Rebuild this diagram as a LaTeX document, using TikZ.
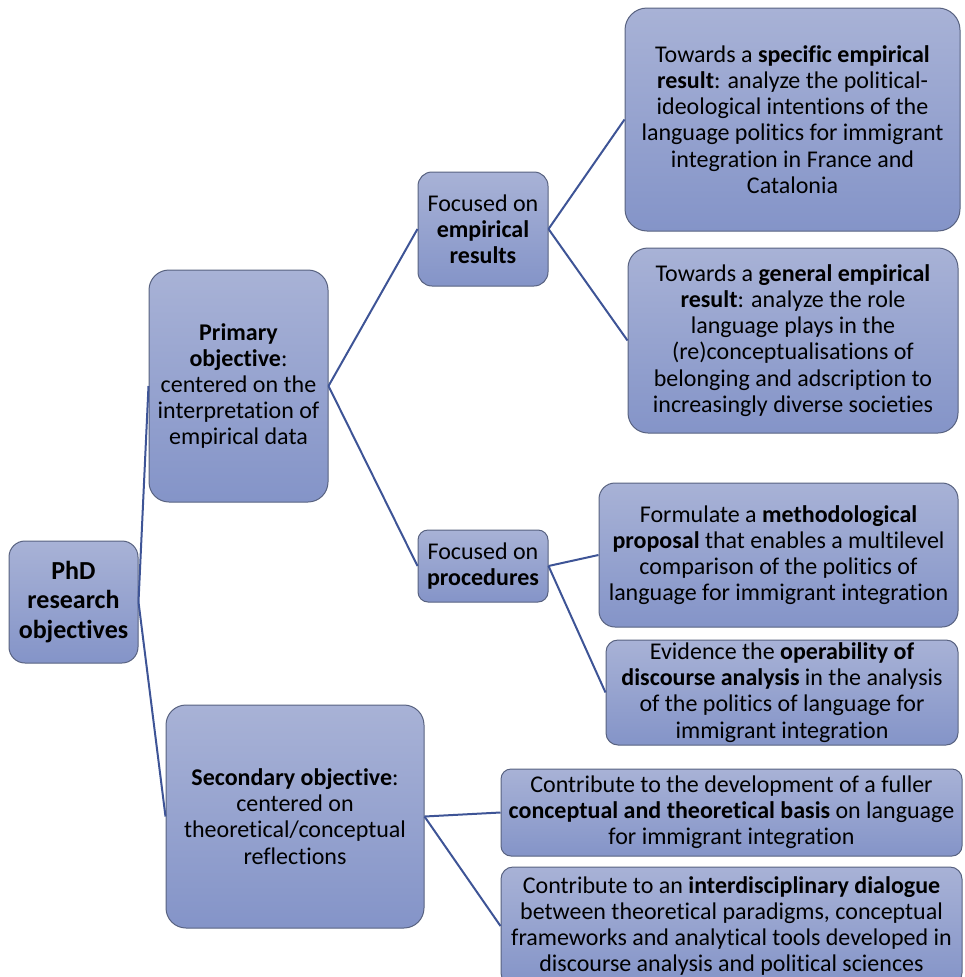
\documentclass[tikz,border=0pt]{standalone}
\usepackage{fontspec}
\setmainfont{Carlito}[Ligatures=NoCommon]
\definecolor{topc}{RGB}{168,178,214}
\definecolor{botc}{RGB}{132,148,200}
\definecolor{edgec}{RGB}{88,98,128}
\definecolor{linec}{RGB}{62,84,150}
\begin{document}
\begin{tikzpicture}[x=1pt,y=-1pt,
  obox/.style={draw=edgec, line width=1pt, rounded corners=#1, top color=topc, bottom color=botc,
    align=center, inner sep=0pt, font=\fontsize{24}{26.2}\selectfont},
  conn/.style={draw=linec, line width=2pt}]
\useasboundingbox (0,0) rectangle (964,977);
\clip (0,0) rectangle (964,977);

\node[obox=16pt, minimum width=129pt, minimum height=122pt, font=\fontsize{26}{29.5}\selectfont\bfseries]
  (phd) at (73.5,602) {PhD\\research\\objectives};

\node[obox=20pt, minimum width=179pt, minimum height=232pt] (prim) at (238.5,386)
  {\textbf{Primary}\\\textbf{objective}:\\centered on the\\interpretation of\\empirical data};

\node[obox=20pt, minimum width=258pt, minimum height=223pt] (sec) at (295,816.5)
  {\textbf{Secondary objective}:\\centered on\\theoretical/conceptual\\reflections};

\node[obox=14pt, minimum width=130pt, minimum height=114pt] (emp) at (483,229)
  {Focused on\\\textbf{empirical}\\\textbf{results}};

\node[obox=10pt, minimum width=130pt, minimum height=72pt] (proc) at (483,566)
  {Focused on\\\textbf{procedures}};

\node[obox=22pt, minimum width=335pt, minimum height=223pt] (spec) at (792.5,119.5)
  {Towards a \textbf{specific empirical}\\\textbf{result}: analyze the political-\\ideological intentions of the\\language politics for immigrant\\integration in France and\\Catalonia};

\node[obox=20pt, minimum width=330pt, minimum height=185pt] (gen) at (793,340.5)
  {Towards a \textbf{general empirical}\\\textbf{result}: analyze the role\\language plays in the\\(re)conceptualisations of\\belonging and adscription to\\increasingly diverse societies};

\node[obox=16pt, minimum width=359pt, minimum height=144pt] (meth) at (778.5,555)
  {Formulate a \textbf{methodological}\\\textbf{proposal} that enables a multilevel\\comparison of the politics of\\language for immigrant integration};

\node[obox=12pt, minimum width=352pt, minimum height=105pt] (oper) at (782,692.5)
  {Evidence the \textbf{operability of}\\\textbf{discourse analysis} in the analysis\\of the politics of language for\\immigrant integration};

\node[obox=10pt, minimum width=461pt, minimum height=87pt] (full) at (731.5,812.5)
  {Contribute to the development of a fuller\\\textbf{conceptual and theoretical basis} on language\\for immigrant integration};

\node[obox=12pt, minimum width=461pt, minimum height=118pt] (inter) at (731.5,926)
  {Contribute to an \textbf{interdisciplinary dialogue}\\between theoretical paradigms, conceptual\\frameworks and analytical tools developed in\\discourse analysis and political sciences};

\draw[conn] (phd.east) -- (prim.west);
\draw[conn] (phd.east) -- (sec.west);
\draw[conn] (prim.east) -- (emp.west);
\draw[conn] (prim.east) -- (proc.west);
\draw[conn] (emp.east) -- (spec.west);
\draw[conn] (emp.east) -- (gen.west);
\draw[conn] (proc.east) -- (meth.west);
\draw[conn] (proc.east) -- (oper.west);
\draw[conn] (sec.east) -- (full.west);
\draw[conn] (sec.east) -- (inter.west);
\end{tikzpicture}
\end{document}
